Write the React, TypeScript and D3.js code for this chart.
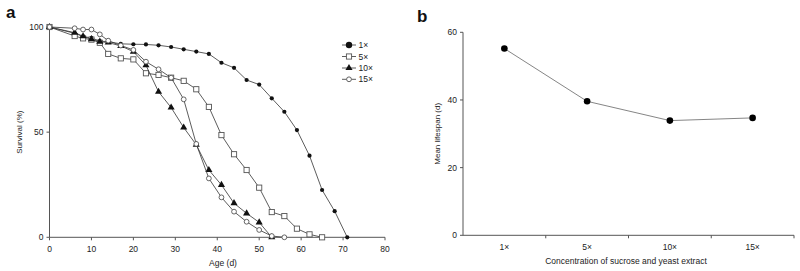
import React from "react";
import * as d3 from "d3";

const days = [0, 6, 8, 10, 12, 14, 17, 20, 23, 26, 29, 32, 35, 38, 41, 44, 47, 50, 53, 56, 59, 62, 65, 68, 71];
const s1x = [100, 97, 95.5, 94.8, 93.3, 93, 92, 91.8, 91.7, 91.3, 90.5, 89.4, 88.3, 87.2, 83, 80.6, 74.8, 72.6, 66.1, 59.7, 51, 38.8, 22.5, 12.4, 0];
const s5x = [100, 95.7, 94.6, 94, 92.5, 87.2, 85.1, 84.6, 78, 77.2, 75.9, 74.4, 70.4, 62, 48.6, 39.5, 32, 23.6, 12, 10.1, 4.1, 1.4, 0];
const s10x = [100, 97.3, 95.6, 94.2, 93, 92.6, 91, 88.3, 81.8, 69.2, 61.7, 52.2, 44, 32, 24.9, 16.2, 11.4, 7.1, 0];
const s15x = [100, 99.4, 98.8, 98.8, 96.5, 93.5, 91.2, 89.1, 83.5, 79.9, 75.9, 65.6, 44.4, 28, 19, 12.2, 7.4, 3.5, 0.6, 0];
const seriesNames = ["1\u00d7", "5\u00d7", "10\u00d7", "15\u00d7"];
const xTicksA = [0, 10, 20, 30, 40, 50, 60, 70, 80];
const yTicksA = [0, 50, 100];

const concCats = ["1\u00d7", "5\u00d7", "10\u00d7", "15\u00d7"];
const meanLifespan = [55.2, 39.6, 33.9, 34.7];
const yTicksB = [0, 20, 40, 60];

const FONT = "Liberation Sans, Arial, sans-serif";
const AX = "#555";
const LN = "#333";
const TX = "#222";

function Marker({ kind, x, y, big }: { kind: number; x: number; y: number; big?: boolean }) {
  if (kind === 0) return <circle cx={x} cy={y} r={big ? 3.2 : 2.1} fill="#111" />;
  if (kind === 1) {
    const h = 2.6;
    return <rect x={x - h} y={y - h} width={2 * h} height={2 * h} fill="#fff" stroke="#555" strokeWidth={0.9} />;
  }
  if (kind === 2) {
    const p = d3.symbol(d3.symbolTriangle, 22)();
    return <path d={p as string} transform={`translate(${x},${y})`} fill="#111" />;
  }
  return <circle cx={x} cy={y} r={2.4} fill="#fff" stroke="#555" strokeWidth={0.9} />;
}

export default function App() {
  const xA = d3.scaleLinear().domain([0, 80]).range([49.5, 385]);
  const yA = d3.scaleLinear().domain([0, 100]).range([237.3, 27]);
  const all = [s1x, s5x, s10x, s15x];
  const line = d3.line<[number, number]>().x((d) => xA(d[0])).y((d) => yA(d[1]));

  const xB = d3.scaleBand<string>().domain(concCats).range([463, 794]);
  const yB = d3.scaleLinear().domain([0, 60]).range([235.3, 32.3]);
  const lineB = d3
    .line<number>()
    .x((_, i) => (xB(concCats[i]) as number) + xB.bandwidth() / 2)
    .y((d) => yB(d));

  const legendY = [45, 56.5, 68, 79.3];

  return (
    <svg width={800} height={271} style={{ position: "absolute", left: 0, top: 0, fontFamily: FONT }}>
      <rect width={800} height={271} fill="#fff" />
      {/* Panel a */}
      <text x={6} y={18} fontSize={17} fontWeight="bold" fill="#111">a</text>
      <line x1={xA(0)} x2={xA(0)} y1={yA(100)} y2={yA(0)} stroke={AX} strokeWidth={1} />
      <line x1={xA(0)} x2={xA(80)} y1={yA(0)} y2={yA(0)} stroke={AX} strokeWidth={1} />
      {yTicksA.map((t) => (
        <g key={"ya" + t}>
          <line x1={xA(0) - 3} x2={xA(0)} y1={yA(t)} y2={yA(t)} stroke={AX} />
          <text x={xA(0) - 6} y={yA(t) + 3} fontSize={8.5} textAnchor="end" fill={TX}>{t}</text>
        </g>
      ))}
      {xTicksA.map((t) => (
        <g key={"xa" + t}>
          <line x1={xA(t)} x2={xA(t)} y1={yA(0)} y2={yA(0) + 3} stroke={AX} />
          <text x={xA(t)} y={yA(0) + 15} fontSize={8.5} textAnchor="middle" fill={TX}>{t}</text>
        </g>
      ))}
      <text x={223} y={266} fontSize={8.5} textAnchor="middle" fill={TX}>Age (d)</text>
      <text transform={`translate(22,${(yA(0) + yA(100)) / 2}) rotate(-90)`} fontSize={8} textAnchor="middle" fill={TX}>Survival (%)</text>
      {all.map((s, k) => {
        const pts = s.map((v, i) => [days[i], v] as [number, number]);
        return (
          <g key={"s" + k}>
            <path d={line(pts) as string} fill="none" stroke={LN} strokeWidth={0.8} />
            {pts.map((p, i) => (
              <Marker key={i} kind={k} x={xA(p[0])} y={yA(p[1])} />
            ))}
          </g>
        );
      })}
      {seriesNames.map((n, k) => (
        <g key={"lg" + k}>
          <line x1={342} x2={356} y1={legendY[k]} y2={legendY[k]} stroke={LN} strokeWidth={0.8} />
          <Marker kind={k} x={349} y={legendY[k]} big={k === 0} />
          <text x={358.5} y={legendY[k] + 3} fontSize={8.5} fill={TX}>{n}</text>
        </g>
      ))}

      {/* Panel b */}
      <text x={417} y={22} fontSize={17} fontWeight="bold" fill="#111">b</text>
      <line x1={463} x2={463} y1={yB(60)} y2={yB(0)} stroke={AX} />
      <line x1={463} x2={794} y1={yB(0)} y2={yB(0)} stroke={AX} />
      {yTicksB.map((t) => (
        <g key={"yb" + t}>
          <line x1={460} x2={463} y1={yB(t)} y2={yB(t)} stroke={AX} />
          <text x={457} y={yB(t) + 3} fontSize={8.5} textAnchor="end" fill={TX}>{t}</text>
        </g>
      ))}
      {concCats.map((c) => {
        const x0 = xB(c) as number;
        return (
          <g key={"xb" + c}>
            <line x1={x0 + xB.bandwidth()} x2={x0 + xB.bandwidth()} y1={yB(0)} y2={yB(0) + 3} stroke={AX} />
            <text x={x0 + xB.bandwidth() / 2} y={yB(0) + 15} fontSize={8.5} textAnchor="middle" fill={TX}>{c}</text>
          </g>
        );
      })}
      <text x={626} y={264} fontSize={8.5} textAnchor="middle" fill={TX}>Concentration of sucrose and yeast extract</text>
      <text transform={`translate(440,${(yB(0) + yB(60)) / 2}) rotate(-90)`} fontSize={8} textAnchor="middle" fill={TX}>Mean lifespan (d)</text>
      <path d={lineB(meanLifespan) as string} fill="none" stroke="#666" strokeWidth={0.8} />
      {meanLifespan.map((v, i) => (
        <circle key={"mb" + i} cx={(xB(concCats[i]) as number) + xB.bandwidth() / 2} cy={yB(v)} r={3.3} fill="#000" />
      ))}
    </svg>
  );
}
